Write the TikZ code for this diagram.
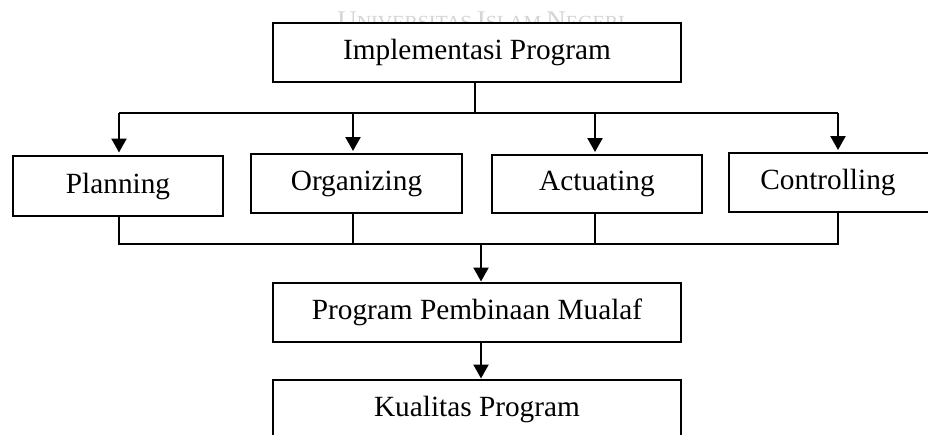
\documentclass[tikz,border=0pt]{standalone}
\usepackage{fontspec}
\setmainfont{Liberation Serif}
\usetikzlibrary{arrows.meta}
\begin{document}
\begin{tikzpicture}[x=1pt,y=-1pt,
  box/.style={draw=black, line width=2.6pt, rectangle, inner sep=0pt,
    font=\fontsize{29.3}{31}\selectfont},
  conn/.style={line width=2.3pt},
  arr/.style={conn, -{Triangle[length=14pt,width=15pt]}},
  wm/.style={text=black!17, inner sep=0pt}]
\useasboundingbox (0,0) rectangle (928,434);
\clip (0,0) rectangle (928,434);
\fill[white] (0,0) rectangle (928,434);
% watermark
\node[wm, anchor=base] (wmark) at (481,29) {\fontsize{27}{27}\selectfont U\fontsize{20}{20}\selectfont NIVERSITAS \fontsize{27}{27}\selectfont I\fontsize{20}{20}\selectfont SLAM \fontsize{27}{27}\selectfont N\fontsize{20}{20}\selectfont EGERI};
% nodes
\node[box, fill=white, minimum width=408pt, minimum height=59pt] (impl) at (477,52.5) {Implementasi Program};
\node[box, minimum width=210pt, minimum height=60pt] (plan) at (118,186) {Planning};
\node[box, minimum width=211pt, minimum height=59pt] (org) at (356.5,183.5) {Organizing};
\node[box, minimum width=210pt, minimum height=58pt] (act) at (597,184) {Actuating};
\node[box, minimum width=222pt, minimum height=59pt] (ctrl) at (840,182.5) {};
\node[font=\fontsize{29.3}{31}\selectfont] (ctrltext) at (828,182.5) {Controlling};
\node[box, minimum width=408pt, minimum height=59pt] (ppm) at (477,312.5) {Program Pembinaan Mualaf};
\node[box, minimum width=408pt, minimum height=59pt] (kual) at (477,409.5) {Kualitas Program};
% coordinates
\coordinate (tj) at (475,113);
\coordinate (tl) at (119,113);
\coordinate (tr) at (838,113);
\coordinate (bj) at (481,244);
\coordinate (bl) at (119,244);
\coordinate (br) at (838,244);
% top distribution
\draw[conn] (impl.south -| tj) -- (tj);
\draw[conn] (tl) -- (tr);
\draw[arr] (tl) -- (119,152.5);
\draw[arr] (353,113) -- (353,151);
\draw[arr] (595,113) -- (595,152);
\draw[arr] (tr) -- (838,150);
% bottom collection
\draw[conn] (plan.south -| bl) -- (bl) -- (br) -- (ctrl.south -| br);
\draw[conn] (org.south -| 353,0) -- (353,244);
\draw[conn] (act.south -| 595,0) -- (595,244);
\draw[arr] (bj) -- (481,281.5);
\draw[arr] (ppm.south -| bj) -- (481,378.5);
\end{tikzpicture}
\end{document}
